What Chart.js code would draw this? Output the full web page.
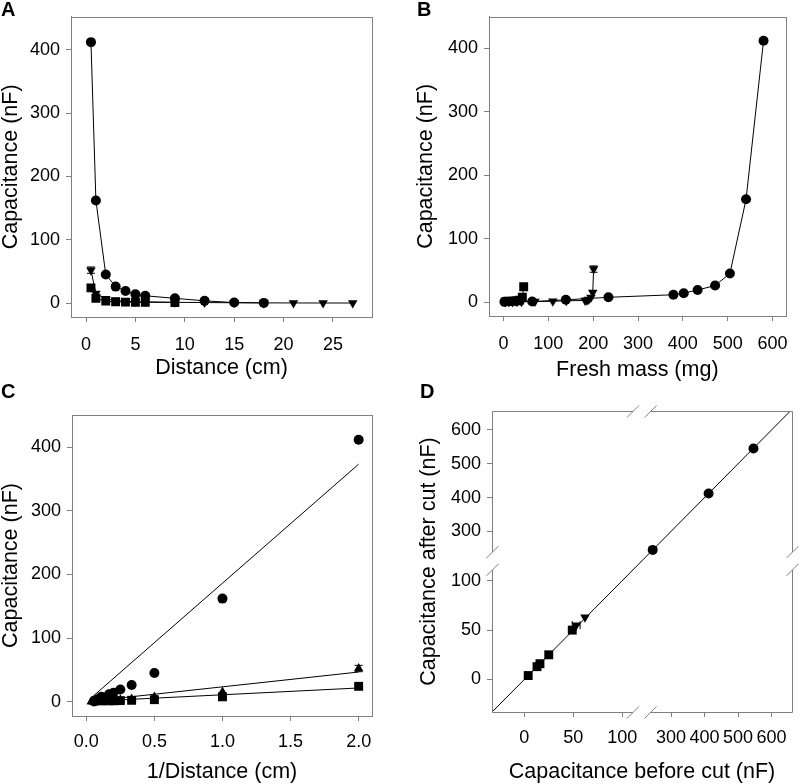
<!DOCTYPE html>
<html>
<head>
<meta charset="utf-8">
<script src="https://cdn.jsdelivr.net/npm/chart.js@4.4.1/dist/chart.umd.min.js"></script>
<style>
body { margin:0; background:#fff; width:800px; height:784px; position:relative; overflow:hidden; font-family:"Liberation Sans", Arial, sans-serif; }
canvas { position:absolute; }
.tag { position:absolute; font-weight:bold; font-size:20px; line-height:20px; color:#000; }
</style>
</head>
<body>
<canvas id="chartA" width="400" height="392" style="left:0;top:0"></canvas>
<canvas id="chartB" width="400" height="392" style="left:400px;top:0"></canvas>
<canvas id="chartC" width="400" height="392" style="left:0;top:392px"></canvas>
<canvas id="chartD" width="400" height="392" style="left:400px;top:392px"></canvas>
<div class="tag" style="left:1px;top:-1px">A</div>
<div class="tag" style="left:417px;top:-1px">B</div>
<div class="tag" style="left:1px;top:381px">C</div>
<div class="tag" style="left:420px;top:381px">D</div>
<script>
// capacitance (nF) for the three leaf series
const capCircle = [412, 162, 45, 26, 19, 14, 11.5, 7.5, 3.5, 0.8, 0.3];
const capSquare = [24, 7.5, 3, 2, 1.5, 1.3, 1.2, 1];
const capTri = [52, 15, 7, 4, 3, 2.5, 2, 1.2, 0.8, 0.5, 0.3, 0.2, 0.1, 0.1];
const errTri = [5, 0, 0, 0, 0, 0, 0, 0, 0, 0, 0, 0, 0, 0];

// A: distance (cm)
const distCircle = [0.5, 1, 2, 3, 4, 5, 6, 9, 12, 15, 18];
const distSquare = [0.5, 1, 2, 3, 4, 5, 6, 9];
const distTri = [0.5, 1, 2, 3, 4, 5, 6, 9, 12, 15, 18, 21, 24, 27];

// B: fresh mass (mg)
const massCircle = [580, 541, 505, 472, 433, 402, 379, 234, 139, 64, 2];
const massSquare = [45, 42, 36, 30, 24, 18, 12, 6];
const massTri = [201, 199, 195, 190, 186, 182, 140, 110, 70, 40, 30, 20, 12, 4];

// C: 1/distance
const invCircle = [2, 1, 0.5, 0.333, 0.25, 0.2, 0.167, 0.111, 0.083, 0.067, 0.056];
const invSquare = [2, 1, 0.5, 0.333, 0.25, 0.2, 0.167, 0.111];
const invTri = [2, 1, 0.5, 0.333, 0.25, 0.2, 0.167, 0.111, 0.083, 0.067, 0.056, 0.048, 0.042, 0.037];
const fitX = [0.03, 2.0];
const fitCircle = [4.7, 373.5];
const fitTri = [0.6, 46.5];
const fitSquare = [0.3, 21.4];

// D: before / after cut (nF)
const beforeSquare = [4, 13, 16, 25, 49];
const afterSquare = [4, 13, 16, 25, 50];
const beforeTri = [53, 62];
const afterTri = [55, 63];
const errTriD = [4, 0];
const beforeCircle = [245, 412, 546];
const afterCircle = [245, 412, 545];

// tick labels
const capTicks = [0, 100, 200, 300, 400];
const distTicks = [0, 5, 10, 15, 20, 25];
const massTicks = [0, 100, 200, 300, 400, 500, 600];
const invTicks = [0, 0.5, 1, 1.5, 2];
const cutTicks = [0, 50, 100, 300, 400, 500, 600];

Chart.defaults.font.family = '"Liberation Sans", Arial, sans-serif';
Chart.defaults.color = '#000';
Chart.defaults.animation = false;

const GREY = '#808080';

// broken axis in D: values above the break are compressed
function brk(v) { return v <= 120 ? v : 150 + (v - 300) * 0.342; }

function pts(xs, ys, f) {
  f = f || (v => v);
  return xs.map((x, i) => ({ x: f(x), y: f(ys[i]) }));
}

function series(data, style, opts) {
  return Object.assign({
    data: data,
    showLine: true,
    borderColor: '#000',
    borderWidth: 1,
    backgroundColor: '#000',
    pointStyle: style,
    pointRadius: style === 'rect' ? 6.3 : 5,
    pointRotation: 0,
    pointBorderWidth: 0,
    tension: 0
  }, opts || {});
}

function axis(o) {
  return {
    type: 'linear',
    min: o.min,
    max: o.max,
    afterBuildTicks: s => { s.ticks = o.ticks.map(v => ({ value: v })); },
    afterFit: s => { if (o.w) s.width = o.w; if (o.h) s.height = o.h; },
    ticks: { font: { size: 18 }, color: '#000', padding: o.pad, autoSkip: false, maxRotation: 0,
             callback: o.fmt || (v => v) },
    grid: { drawOnChartArea: false, drawTicks: true, tickLength: 5, color: GREY },
    border: { display: o.border !== false, color: GREY },
    title: { display: true, text: o.title, color: '#000',
             font: { size: 21.5, lineHeight: 1 }, padding: o.tpad }
  };
}

const frame = {
  id: 'frame',
  afterDraw(chart) {
    const { ctx, chartArea: a } = chart;
    ctx.save();
    ctx.strokeStyle = GREY;
    ctx.lineWidth = 1;
    ctx.strokeRect(Math.round(a.left) + 0.5, Math.round(a.top) + 0.5,
                   Math.round(a.right - a.left), Math.round(a.bottom - a.top));
    ctx.restore();
  }
};

const errorBars = {
  id: 'errorBars',
  afterDatasetsDraw(chart) {
    const ctx = chart.ctx, xs = chart.scales.x, ys = chart.scales.y;
    ctx.save();
    ctx.strokeStyle = '#000';
    ctx.lineWidth = 1;
    chart.data.datasets.forEach(ds => {
      ds.data.forEach((p, i) => {
        const px = xs.getPixelForValue(p.x), py = ys.getPixelForValue(p.y);
        const ey = ds.errY ? ds.errY[i] : 0, ex = ds.errX ? ds.errX[i] : 0;
        ctx.beginPath();
        if (ey) {
          const t = ys.getPixelForValue(p.y + ey), b = ys.getPixelForValue(p.y - ey);
          ctx.moveTo(px, t); ctx.lineTo(px, b);
          ctx.moveTo(px - 4, t); ctx.lineTo(px + 4, t);
          ctx.moveTo(px - 4, b); ctx.lineTo(px + 4, b);
        }
        if (ex) {
          const l = xs.getPixelForValue(p.x - ex), r = xs.getPixelForValue(p.x + ex);
          ctx.moveTo(l, py); ctx.lineTo(r, py);
          ctx.moveTo(l, py - 4); ctx.lineTo(l, py + 4);
          ctx.moveTo(r, py - 4); ctx.lineTo(r, py + 4);
        }
        ctx.stroke();
      });
    });
    ctx.restore();
  }
};

const brokenFrame = {
  id: 'brokenFrame',
  afterDraw(chart) {
    const { ctx, chartArea: a, scales } = chart;
    const gap = [111, 129];
    const bx = gap.map(v => scales.x.getPixelForValue(v));
    const by = gap.map(v => scales.y.getPixelForValue(v));
    const L = a.left + 0.5, R = a.right + 0.5, T = a.top + 0.5, B = a.bottom + 0.5;
    ctx.save();
    ctx.strokeStyle = GREY;
    ctx.lineWidth = 1;
    ctx.beginPath();
    [T, B].forEach(y => {
      ctx.moveTo(L, y); ctx.lineTo(bx[0], y);
      ctx.moveTo(bx[1], y); ctx.lineTo(R, y);
      bx.forEach(x => { ctx.moveTo(x - 6, y + 6); ctx.lineTo(x + 6, y - 6); });
    });
    [L, R].forEach(x => {
      ctx.moveTo(x, B); ctx.lineTo(x, by[0]);
      ctx.moveTo(x, by[1]); ctx.lineTo(x, T);
      by.forEach(y => { ctx.moveTo(x - 6, y + 6); ctx.lineTo(x + 6, y - 6); });
    });
    ctx.stroke();
    ctx.restore();
  }
};

function baseOptions(pad, xAxis, yAxis) {
  return {
    responsive: false,
    animation: false,
    layout: { padding: pad },
    plugins: { legend: { display: false }, tooltip: { enabled: false } },
    scales: { x: xAxis, y: yAxis }
  };
}

// Panel A
new Chart(document.getElementById('chartA'), {
  type: 'scatter',
  data: { datasets: [
    series(pts(distSquare, capSquare), 'rect'),
    series(pts(distTri, capTri), 'triangle', { pointRotation: 180, pointRadius: 5.5, errY: errTri }),
    series(pts(distCircle, capCircle), 'circle')
  ] },
  options: baseOptions({ left: 0, top: 16, right: 28, bottom: 0 },
    axis({ min: -1.52, max: 28.95, ticks: distTicks, h: 75, pad: 12, title: 'Distance (cm)', tpad: { bottom: 13 } }),
    axis({ min: -22, max: 452, ticks: capTicks, w: 71, pad: 6, title: 'Capacitance (nF)', tpad: { top: 0 } })),
  plugins: [frame, errorBars]
});

// Panel B
new Chart(document.getElementById('chartB'), {
  type: 'scatter',
  data: { datasets: [
    series(pts(massSquare, capSquare), 'rect'),
    series(pts(massTri, capTri), 'triangle', { pointRotation: 180, pointRadius: 5.5, errY: errTri }),
    series(pts(massCircle, capCircle), 'circle')
  ] },
  options: baseOptions({ left: 0, top: 16, right: 11, bottom: 0 },
    axis({ min: -32.4, max: 629.3, ticks: massTicks, h: 76, pad: 12, title: 'Fresh mass (mg)', tpad: { bottom: 11 } }),
    axis({ min: -22, max: 449.8, ticks: capTicks, w: 89, pad: 6, title: 'Capacitance (nF)', tpad: { top: 15 } })),
  plugins: [frame, errorBars]
});

// Panel C
new Chart(document.getElementById('chartC'), {
  type: 'scatter',
  data: { datasets: [
    series(pts(fitX, fitCircle), 'circle', { pointRadius: 0 }),
    series(pts(fitX, fitTri), 'circle', { pointRadius: 0 }),
    series(pts(fitX, fitSquare), 'circle', { pointRadius: 0 }),
    series(pts(invSquare, capSquare), 'rect', { showLine: false }),
    series(pts(invTri, capTri), 'triangle', { showLine: false, pointRadius: 5.5, errY: errTri }),
    series(pts(invCircle, capCircle), 'circle', { showLine: false })
  ] },
  options: baseOptions({ left: 0, top: 23, right: 28, bottom: 0 },
    axis({ min: -0.105, max: 2.098, ticks: invTicks, h: 68, pad: 10, title: '1/Distance (cm)', tpad: { bottom: 1.5 },
           fmt: v => v.toFixed(1) }),
    axis({ min: -22.7, max: 450.9, ticks: capTicks, w: 72, pad: 6, title: 'Capacitance (nF)', tpad: { top: 0 } })),
  plugins: [frame, errorBars]
});

// Panel D (broken axes)
const dMin = -33, dMax = 274;
new Chart(document.getElementById('chartD'), {
  type: 'scatter',
  data: { datasets: [
    series([{ x: dMin, y: dMin }, { x: dMax, y: dMax }], 'circle', { pointRadius: 0 }),
    series(pts(beforeSquare, afterSquare, brk), 'rect', { showLine: false }),
    series(pts(beforeTri, afterTri, brk), 'triangle', { showLine: false, pointRotation: 180, pointRadius: 5.5, errX: errTriD }),
    series(pts(beforeCircle, afterCircle, brk), 'circle', { showLine: false })
  ] },
  options: baseOptions({ left: 0, top: 19, right: 8, bottom: 0 },
    axis({ min: -33, max: 273.5, ticks: cutTicks.map(brk), h: 72, pad: 10, border: false,
           title: 'Capacitance before cut (nF)', tpad: { bottom: 1 }, fmt: (v, i) => cutTicks[i] }),
    axis({ min: -32.9, max: 271.8, ticks: cutTicks.map(brk), w: 92, pad: 6, border: false,
           title: 'Capacitance after cut (nF)', tpad: { top: 18 }, fmt: (v, i) => cutTicks[i] })),
  plugins: [brokenFrame, errorBars]
});
</script>
</body>
</html>
